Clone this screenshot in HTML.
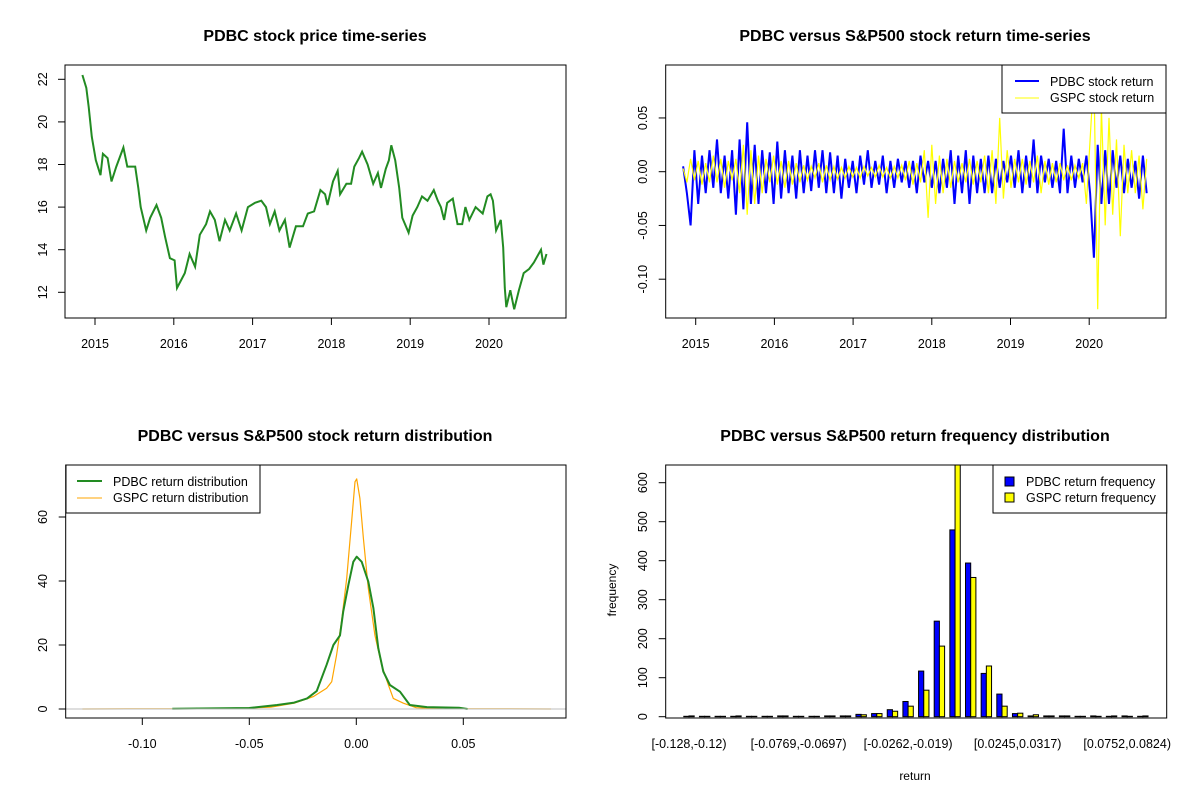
<!DOCTYPE html>
<html><head><meta charset="utf-8">
<style>
html,body{margin:0;padding:0;background:#fff;}
svg{display:block;font-family:"Liberation Sans",Arial,sans-serif;}
</style></head>
<body>
<svg id="c" width="1200" height="800" viewBox="0 0 1200 800"></svg>
<script>
// ---------- data ----------
const priceYears = [2014.84,2014.89,2014.92,2014.96,2015.01,2015.07,2015.10,2015.16,2015.21,2015.27,2015.36,2015.41,2015.51,2015.55,2015.58,2015.65,2015.70,2015.78,2015.84,2015.89,2015.95,2016.01,2016.04,2016.14,2016.20,2016.27,2016.33,2016.41,2016.46,2016.52,2016.58,2016.65,2016.71,2016.79,2016.86,2016.94,2017.03,2017.11,2017.17,2017.22,2017.28,2017.34,2017.41,2017.47,2017.55,2017.64,2017.70,2017.78,2017.86,2017.92,2017.95,2018.02,2018.08,2018.11,2018.19,2018.25,2018.29,2018.35,2018.39,2018.46,2018.53,2018.59,2018.63,2018.69,2018.73,2018.76,2018.81,2018.86,2018.90,2018.98,2019.03,2019.09,2019.15,2019.22,2019.30,2019.35,2019.39,2019.43,2019.47,2019.54,2019.60,2019.66,2019.70,2019.75,2019.83,2019.92,2019.98,2020.02,2020.05,2020.09,2020.15,2020.18,2020.20,2020.22,2020.27,2020.32,2020.38,2020.44,2020.51,2020.57,2020.63,2020.66,2020.69,2020.73];
const prices = [22.2,21.6,20.7,19.3,18.2,17.5,18.5,18.3,17.2,17.9,18.8,17.9,17.9,16.9,16.0,14.9,15.5,16.1,15.5,14.6,13.6,13.5,12.2,12.9,13.8,13.2,14.7,15.2,15.8,15.4,14.4,15.4,14.9,15.7,14.9,16.0,16.2,16.3,16.0,15.2,15.8,14.9,15.4,14.1,15.1,15.1,15.7,15.8,16.8,16.6,16.1,17.2,17.7,16.6,17.1,17.1,17.9,18.3,18.6,18.0,17.1,17.6,16.9,17.8,18.2,18.9,18.2,16.9,15.5,14.8,15.6,16.0,16.5,16.3,16.8,16.3,16.0,15.4,16.2,16.4,15.2,15.2,16.0,15.4,16.0,15.7,16.5,16.6,16.3,14.9,15.4,14.1,12.2,11.3,12.1,11.2,12.1,12.9,13.1,13.4,13.8,14.0,13.3,13.8];
const priceYTicks = [12,14,16,18,20,22];
const yearTicks = [2015,2016,2017,2018,2019,2020];

const retStart = 2014.84, retEnd = 2020.73;
const pdbcReturns = [0.005,-0.02,-0.05,0.02,-0.03,0.015,-0.02,0.02,-0.015,0.03,
-0.02,0.015,-0.025,0.02,-0.04,0.03,-0.035,0.046,-0.03,0.025,
-0.03,0.02,-0.02,0.018,-0.03,0.028,-0.025,0.02,-0.02,0.015,
-0.025,0.02,-0.02,0.015,-0.018,0.02,-0.015,0.02,-0.02,0.018,
-0.02,0.015,-0.025,0.012,-0.015,0.01,-0.02,0.015,-0.012,0.02,
-0.015,0.01,-0.012,0.015,-0.02,0.01,-0.015,0.012,-0.01,0.01,
-0.015,0.01,-0.02,0.015,-0.01,0.01,-0.015,0.01,-0.02,0.012,
-0.015,0.02,-0.03,0.015,-0.02,0.02,-0.03,0.015,-0.02,0.012,
-0.02,0.015,-0.02,0.012,-0.015,0.01,-0.01,0.015,-0.015,0.02,
-0.02,0.015,-0.015,0.03,-0.02,0.015,-0.01,0.012,-0.015,0.01,
-0.02,0.04,-0.02,0.015,-0.015,0.012,-0.01,0.015,-0.02,-0.08,
0.025,-0.03,0.02,-0.03,0.02,-0.015,0.015,-0.02,0.012,-0.015,
0.01,-0.025,0.015,-0.02];
const gspcReturns = [0.003,-0.01,0.012,-0.008,0.01,-0.012,0.008,-0.01,0.015,-0.01,
0.012,-0.015,0.01,-0.008,0.012,-0.02,0.025,-0.04,0.02,-0.03,
0.015,-0.02,0.012,-0.01,0.015,-0.012,0.01,-0.015,0.01,-0.012,
0.008,-0.01,0.006,-0.008,0.005,-0.006,0.008,-0.01,0.006,-0.008,
0.005,-0.007,0.004,-0.006,0.005,-0.005,0.004,-0.006,0.005,-0.004,
0.004,-0.005,0.006,-0.005,0.004,-0.006,0.005,-0.006,0.006,-0.008,
0.01,-0.012,0.008,-0.01,0.02,-0.043,0.025,-0.03,0.015,-0.02,
0.012,-0.015,0.01,-0.01,0.008,-0.01,0.012,-0.012,0.01,-0.01,
0.015,-0.02,0.02,-0.03,0.05,-0.025,0.02,-0.015,0.012,-0.01,
0.012,-0.012,0.01,-0.01,0.015,-0.02,0.01,-0.012,0.008,-0.01,
0.008,-0.008,0.006,-0.008,0.006,-0.006,0.008,-0.03,0.03,0.09,
-0.128,0.06,-0.05,0.05,-0.04,0.03,-0.06,0.025,-0.02,0.02,
-0.02,0.015,-0.035,0.012];
const retYTicks = [-0.10,-0.05,0.00,0.05];
const retYLabels = ["-0.10","-0.05","0.00","0.05"];

const densPdbcX = [-0.086,-0.05,-0.037,-0.029,-0.023,-0.0185,-0.0139,-0.0107,-0.0076,-0.0061,-0.0037,-0.0014,0.0002,0.0025,0.0056,0.008,0.0103,0.0126,0.0157,0.0204,0.025,0.033,0.048,0.052];
const densPdbcY = [0.1,0.3,1.25,2,3.3,5.6,13.8,20,23,30.4,38.8,46,47.6,46,39.8,31.5,19,11.7,7.5,5.4,1.25,0.6,0.4,0];
const densGspcX = [-0.128,-0.06,-0.04,-0.029,-0.020,-0.0139,-0.0115,-0.0092,-0.0069,-0.0045,-0.0022,-0.0006,0.0002,0.0017,0.0033,0.0056,0.0087,0.0118,0.015,0.0173,0.022,0.028,0.04,0.091];
const densGspcY = [0,0.1,0.6,1.8,3.9,6.5,8.5,16.9,27.3,40.8,58.5,71,71.9,65.8,53.3,37.7,23.1,13.75,7.5,3.3,1.8,0.4,0.1,0];
const densXTicks = [-0.10,-0.05,0.00,0.05];
const densXLabels = ["-0.10","-0.05","0.00","0.05"];
const densYTicks = [0,20,40,60];

const histBins = ["[-0.128,-0.12)","b1","b2","b3","b4","b5","b6","[-0.0769,-0.0697)","b8","b9","b10","b11","b12","b13","[-0.0262,-0.019)","b15","b16","b17","b18","b19","b20","[0.0245,0.0317)","b22","b23","b24","b25","b26","b27","[0.0752,0.0824)","b29"];
const histShown = [0,7,14,21,28];
const histPdbc = [1,1,1,1,1,1,2,1,1,2,2,6,8,18,39,117,245,479,394,111,58,8,2,2,2,1,2,1,2,1];
const histGspc = [2,1,1,2,1,1,2,1,1,2,2,5,8,14,27,68,181,700,357,130,27,9,5,2,2,1,1,2,1,2];
const histYTicks = [0,100,200,300,400,500,600];

// ---------- helpers ----------
const NS="http://www.w3.org/2000/svg";
const svg=document.getElementById('c');
function mk(tag,attrs,parent){const e=document.createElementNS(NS,tag);for(const k in attrs)e.setAttribute(k,attrs[k]);(parent||svg).appendChild(e);return e;}
function txt(s,x,y,size,opts,parent){const e=mk('text',Object.assign({x:x,y:y,'font-size':size,'text-anchor':'middle',fill:'#000'},opts||{}),parent);e.textContent=s;return e;}
function grp(name){const g=mk('g',{});return g;}

// ================= Panel 1: price =================
(function(){
  const g=grp('price-panel');
  const L=65,R=566,T=65,B=318;
  const sx=v=>95+(v-2015)*78.8, sy=v=>292.3-(v-12)*21.3;
  const t=txt('PDBC stock price time-series',315,41,16,{'font-weight':'bold'},g);
  
  let d='';priceYears.forEach((yr,i)=>{d+=(i?'L':'M')+sx(yr).toFixed(1)+','+sy(prices[i]).toFixed(1);});
  const p=mk('path',{d:d,fill:'none',stroke:'#228B22','stroke-width':2},g);
  
  const box=mk('rect',{x:L,y:T,width:R-L,height:B-T,fill:'none',stroke:'#000','stroke-width':1},g);
  
  yearTicks.forEach(yr=>{const x=sx(yr);mk('line',{x1:x,x2:x,y1:B,y2:B+7,stroke:'#000'},g);
    const l=txt(String(yr),x,348,12.5,{},g);});
  priceYTicks.forEach(v=>{const y=sy(v);mk('line',{x1:L-7,x2:L,y1:y,y2:y,stroke:'#000'},g);
    const l=txt(String(v),0,0,12.5,{transform:`translate(47,${y}) rotate(-90)`},g);});
})();

// ================= Panel 2: returns =================
(function(){
  const g=grp('return-panel');
  const L=665.7,R=1166,T=65,B=318;
  const sx=v=>695.7+(v-2015)*78.7, sy=v=>171.7-v*1075;
  const t=txt('PDBC versus S&P500 stock return time-series',915,41,16,{'font-weight':'bold'},g);
  
  const clip=mk('clipPath',{id:'clipR'},g);mk('rect',{x:L,y:T,width:R-L,height:B-T},clip);
  function series(arr,col,w,name){
    const step=(retEnd-retStart)/(arr.length-1);
    let d='';arr.forEach((v,i)=>{d+=(i?'L':'M')+sx(retStart+i*step).toFixed(1)+','+sy(v).toFixed(1);});
    const p=mk('path',{d:d,fill:'none',stroke:col,'stroke-width':w,'clip-path':'url(#clipR)'},g);
    
  }
  series(pdbcReturns,'#0000FF',2,'pdbc-return-line');
  series(gspcReturns,'#FFFF00',1.2,'gspc-return-line');
  const box=mk('rect',{x:L,y:T,width:R-L,height:B-T,fill:'none',stroke:'#000'},g);
  
  yearTicks.forEach(yr=>{const x=sx(yr);mk('line',{x1:x,x2:x,y1:B,y2:B+7,stroke:'#000'},g);
    const l=txt(String(yr),x,348,12.5,{},g);});
  retYTicks.forEach((v,i)=>{const y=sy(v);mk('line',{x1:L-7,x2:L,y1:y,y2:y,stroke:'#000'},g);
    const l=txt(retYLabels[i],0,0,12.5,{transform:`translate(647,${y}) rotate(-90)`},g);});
  const lg=grp('return-legend');g.appendChild(lg);
  mk('rect',{x:1002,y:65,width:164,height:48,fill:'#fff',stroke:'#000'},lg);
  mk('line',{x1:1015,x2:1039,y1:81,y2:81,stroke:'#0000FF','stroke-width':2},lg);
  mk('line',{x1:1015,x2:1039,y1:98,y2:98,stroke:'#FFFF00','stroke-width':1},lg);
  txt('PDBC stock return',1050,86,12.5,{'text-anchor':'start'},lg);
  txt('GSPC stock return',1050,102,12.5,{'text-anchor':'start'},lg);
})();

// ================= Panel 3: density =================
(function(){
  const g=grp('density-panel');
  const L=65.7,R=566,T=465,B=718;
  const sx=v=>356.3+v*2140, sy=v=>709-v*3.2;
  const t=txt('PDBC versus S&P500 stock return distribution',315,441,16,{'font-weight':'bold'},g);
  
  function curve(xs,ys,col,w,name){
    let d='';xs.forEach((x,i)=>{d+=(i?'L':'M')+sx(x).toFixed(1)+','+sy(ys[i]).toFixed(1);});
    const p=mk('path',{d:d,fill:'none',stroke:col,'stroke-width':w,'stroke-linejoin':'round'},g);
    
  }
  curve(densGspcX,densGspcY,'#FFA500',1.2,'gspc-density-line');
  curve(densPdbcX,densPdbcY,'#228B22',2,'pdbc-density-line');
  const z=mk('line',{x1:L,x2:R,y1:sy(0),y2:sy(0),stroke:'#BEBEBE','stroke-width':1},g);
  
  const box=mk('rect',{x:L,y:T,width:R-L,height:B-T,fill:'none',stroke:'#000'},g);
  
  densXTicks.forEach((v,i)=>{const x=sx(v);mk('line',{x1:x,x2:x,y1:B,y2:B+7,stroke:'#000'},g);
    const l=txt(densXLabels[i],x,748,12.5,{},g);});
  densYTicks.forEach(v=>{const y=sy(v);mk('line',{x1:L-7,x2:L,y1:y,y2:y,stroke:'#000'},g);
    const l=txt(String(v),0,0,12.5,{transform:`translate(47,${y}) rotate(-90)`},g);});
  const lg=grp('density-legend');g.appendChild(lg);
  mk('rect',{x:66,y:465,width:194,height:48,fill:'#fff',stroke:'#000'},lg);
  mk('line',{x1:77,x2:102,y1:481,y2:481,stroke:'#228B22','stroke-width':2},lg);
  mk('line',{x1:77,x2:102,y1:498,y2:498,stroke:'#FFA500','stroke-width':1},lg);
  txt('PDBC return distribution',113,486,12.5,{'text-anchor':'start'},lg);
  txt('GSPC return distribution',113,502,12.5,{'text-anchor':'start'},lg);
})();

// ================= Panel 4: histogram =================
(function(){
  const g=grp('histogram-panel');
  const L=665.7,R=1166.7,T=465,B=718;
  const gx=i=>689+i*15.65, bw=5.2, sy=v=>716.7-v*0.39;
  const t=txt('PDBC versus S&P500 return frequency distribution',915,441,16,{'font-weight':'bold'},g);
  
  const clip=mk('clipPath',{id:'clipH'},g);mk('rect',{x:L,y:T,width:R-L,height:B-T},clip);
  histBins.forEach((b,i)=>{
    const c=gx(i);
    const r1=mk('rect',{x:c-bw,y:sy(histPdbc[i]),width:bw,height:histPdbc[i]*0.39,fill:'#0000FF',stroke:'#000','stroke-width':1,'clip-path':'url(#clipH)'},g);
    
    
    const r2=mk('rect',{x:c,y:sy(histGspc[i]),width:bw,height:histGspc[i]*0.39,fill:'#FFFF00',stroke:'#000','stroke-width':1,'clip-path':'url(#clipH)'},g);
    
    
  });
  const box=mk('rect',{x:L,y:T,width:R-L,height:B-T,fill:'none',stroke:'#000'},g);
  
  histShown.forEach(i=>{const l=txt(histBins[i],gx(i),748,12.5,{},g);});
  histYTicks.forEach(v=>{const y=sy(v);mk('line',{x1:L-7,x2:L,y1:y,y2:y,stroke:'#000'},g);
    const l=txt(String(v),0,0,12.5,{transform:`translate(647,${y}) rotate(-90)`},g);});
  const xt=txt('return',915,780,12,{},g);
  const yt=txt('frequency',0,0,12,{transform:'translate(616,590) rotate(-90)'},g);
  const lg=grp('histogram-legend');g.appendChild(lg);
  mk('rect',{x:993,y:465,width:173.7,height:48,fill:'#fff',stroke:'#000'},lg);
  mk('rect',{x:1005,y:477,width:9,height:9,fill:'#0000FF',stroke:'#000'},lg);
  mk('rect',{x:1005,y:493,width:9,height:9,fill:'#FFFF00',stroke:'#000'},lg);
  txt('PDBC return frequency',1026,486,12.5,{'text-anchor':'start'},lg);
  txt('GSPC return frequency',1026,502,12.5,{'text-anchor':'start'},lg);
})();
</script>
</body></html>
